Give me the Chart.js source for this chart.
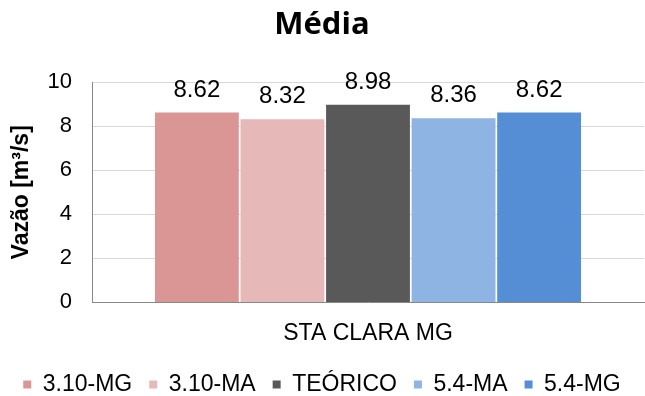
<!DOCTYPE html>
<html><head><meta charset="utf-8">
<script src="https://cdn.jsdelivr.net/npm/chart.js@4/dist/chart.umd.min.js"></script>
<style>html,body{margin:0;padding:0;background:#fff}#wrap{width:645px;height:396px}</style>
</head><body><div id="wrap"><canvas id="c" width="645" height="396"></canvas></div>
<script>
const categories = ["STA CLARA MG"];
const seriesNames = ["3.10-MG", "3.10-MA", "TEÓRICO", "5.4-MA", "5.4-MG"];
const seriesValues = [[8.62], [8.32], [8.98], [8.36], [8.62]];
const seriesColors = ["#D99694", "#E6B9B8", "#595959", "#8DB4E2", "#558ED5"];
const yTicks = [0, 2, 4, 6, 8, 10];

const FONT = '"Liberation Sans", Arial, sans-serif';

const labelPlugin = {
  id: 'vlabels',
  afterDatasetsDraw(chart) {
    const ctx = chart.ctx;
    ctx.save();
    ctx.font = '24px ' + FONT;
    ctx.fillStyle = '#000';
    ctx.textAlign = 'center';
    ctx.textBaseline = 'alphabetic';
    chart.data.datasets.forEach((ds, i) => {
      chart.getDatasetMeta(i).data.forEach((el, j) => {
        ctx.fillText(ds.data[j].toFixed(2), el.x, el.y - 16);
      });
    });
    ctx.restore();
  }
};

new Chart(document.getElementById('c'), {
  type: 'bar',
  data: {
    labels: categories,
    datasets: seriesNames.map((n, i) => ({
      label: n, data: seriesValues[i], backgroundColor: seriesColors[i],
      barPercentage: 0.98, categoryPercentage: 0.775
    }))
  },
  options: {
    responsive: false, animation: false, devicePixelRatio: 1,
    layout: { padding: { left: 0, right: 1, top: 0, bottom: -10 } },
    plugins: {
      title: { display: true, text: 'Média', color: '#000',
        font: { family: '"Open Sans", sans-serif', size: 31, weight: 'bold' },
        padding: { top: 7, bottom: 38 } },
      legend: { position: 'bottom',
        labels: { boxWidth: 8, boxHeight: 8, color: '#000', padding: 17,
          font: { family: FONT, size: 23 } } },
      tooltip: { enabled: false }
    },
    scales: {
      x: {
        grid: { display: false },
        border: { color: '#888', width: 1 },
        ticks: { color: '#000', padding: 9, font: { family: FONT, size: 23 } }
      },
      y: {
        min: 0, max: 10,
        afterBuildTicks: (s) => { s.ticks = yTicks.map(v => ({ value: v })); },
        afterFit: (s) => { s.width = 92; },
        grid: { color: '#d9d9d9', drawTicks: false },
        border: { color: '#888' },
        title: { display: true, text: 'Vazão [m³/s]', color: '#000', padding: { top: 8, bottom: 0 },
          font: { family: FONT, size: 23, weight: 'bold' } },
        ticks: { color: '#000', padding: 20, font: { family: FONT, size: 22 } }
      }
    }
  },
  plugins: [labelPlugin]
});
</script></body></html>
